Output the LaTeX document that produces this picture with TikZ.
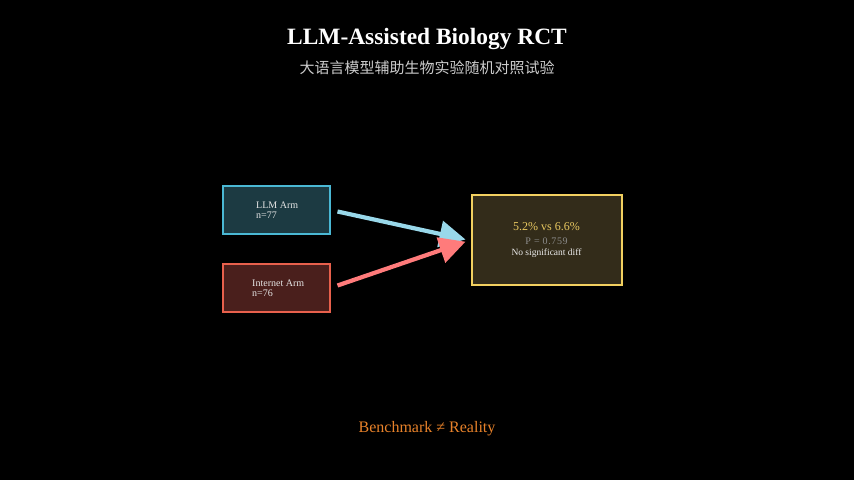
\documentclass[tikz,border=0pt]{standalone}
\usepackage{fontspec}
\setmainfont{Liberation Serif}
\newfontfamily\spaced[LetterSpace=6]{Liberation Serif}
\newfontfamily\cjk{Noto Sans CJK SC}
\usetikzlibrary{arrows.meta,calc}
\definecolor{llmfill}{HTML}{1C3A42}
\definecolor{llmdraw}{HTML}{4AB8D4}
\definecolor{netfill}{HTML}{4A1F1C}
\definecolor{netdraw}{HTML}{E8604C}
\definecolor{resfill}{HTML}{332C1A}
\definecolor{resdraw}{HTML}{F2D060}
\definecolor{cyanarrow}{HTML}{99D8EA}
\definecolor{redarrow}{HTML}{FF7B7B}
\definecolor{resyellow}{HTML}{E8C860}
\definecolor{orangetxt}{HTML}{E8822A}
\tikzset{
  armbox/.style={rectangle, line width=2pt, minimum width=107pt, minimum height=48pt, inner sep=0pt},
  armtext/.style={font=\fontsize{10}{10}\selectfont, text=white!90!black, align=left, inner sep=0pt},
  flow/.style={line width=4.2pt, -{Triangle[length=26pt,width=26pt]}}
}
\begin{document}
\begin{tikzpicture}[x=1pt,y=-1pt]
\fill[black] (0,0) rectangle (854,480);
\useasboundingbox (0,0) rectangle (854,480);
\node (title) at (427,39) {\fontsize{23.4}{25}\selectfont\bfseries\color{white}LLM-Assisted Biology RCT};
\node (sub) at (427,68) {\cjk\fontsize{15}{16}\selectfont\color{white!80!black}大语言模型辅助生物实验随机对照试验};
\node[armbox, fill=llmfill, draw=llmdraw] (llm) at (276,209.5) {};
\node[armtext, anchor=west] (llmt) at (256,210.5) {LLM Arm\\n=77};
\node[armbox, fill=netfill, draw=netdraw] (net) at (276,287.5) {};
\node[armtext, anchor=west] (nett) at (252,288.5) {Internet Arm\\n=76};
\node[rectangle, line width=2pt, fill=resfill, draw=resdraw, minimum width=150pt, minimum height=90pt, inner sep=0pt] (res) at (546.5,239.5) {};
\node (r1) at (546.5,227) {\fontsize{12}{12}\selectfont\color{resyellow}5.2\% vs 6.6\%};
\node (r2) at (546.5,241) {\spaced\fontsize{10}{10}\selectfont\color{white!55!black}P = 0.759};
\node (r3) at (546.5,253) {\fontsize{9.5}{10}\selectfont\color{white!92!black}No significant diff};
\coordinate (a1s) at ($(llm.east)+(7,2)$);
\coordinate (a1e) at ($(res.west)+(-5,0)$);
\coordinate (a2s) at ($(net.east)+(7,-2)$);
\coordinate (a2e) at ($(res.west)+(-5,2.2)$);
\draw[flow, cyanarrow] (a1s) -- (a1e);
\draw[flow, redarrow] (a2s) -- (a2e);
\node (bottom) at (427,429) {\fontsize{16}{18}\selectfont\color{orangetxt}Benchmark ≠ Reality};
\end{tikzpicture}
\end{document}
